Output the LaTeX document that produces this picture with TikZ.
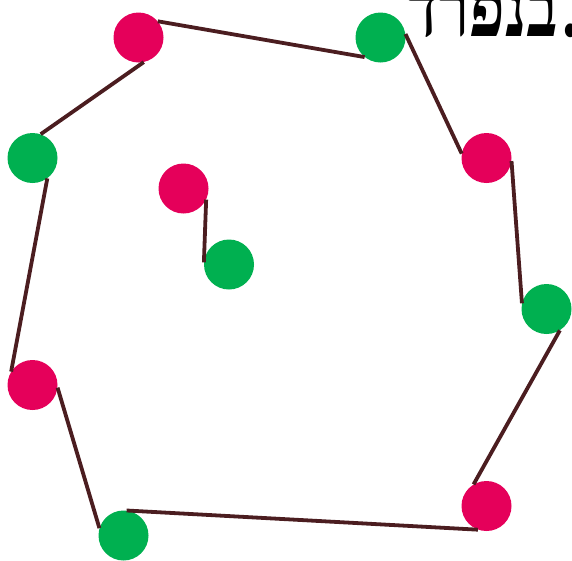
\documentclass[tikz,border=0pt]{standalone}
\usepackage{xcolor}
\usepackage{fontspec}
\usepackage{tikz}
\usetikzlibrary{positioning}
\newfontfamily\hebfont[Script=Hebrew]{Liberation Serif}
\TeXXeTstate=1
\definecolor{dotpink}{HTML}{E5005A}
\definecolor{dotgreen}{HTML}{00B050}
\definecolor{linkbrown}{HTML}{4B1D20}

\begin{document}
\begin{tikzpicture}[
    x=1pt, y=-1pt,
    dot/.style={circle, minimum size=50pt, inner sep=0pt},
    pinkdot/.style={dot, fill=dotpink},
    greendot/.style={dot, fill=dotgreen},
    link/.style={draw=linkbrown, line width=3.8pt},
]
\useasboundingbox (0,0) rectangle (572,560);
\node[pinkdot] (p1) at (138.5,37.5) {};
\node[greendot] (g1) at (380.5,37.5) {};
\node[pinkdot] (p2) at (486.5,158) {};
\node[greendot] (g2) at (546.5,309) {};
\node[pinkdot] (p3) at (486.5,506) {};
\node[greendot] (g3) at (123.5,535.5) {};
\node[pinkdot] (p4) at (32.5,385) {};
\node[greendot] (g4) at (32.5,158) {};
\node[pinkdot] (p5) at (183.5,188.5) {};
\node[greendot] (g5) at (229,264.5) {};
\draw[link] (p1.40) -- (g1.231);
\draw[link] (g1.8) -- (p2.170);
\draw[link] (p2.-7) -- (g2.167);
\draw[link] (g2.-58) -- (p3.121);
\draw[link] (p3.250) -- (g3.83);
\draw[link] (g3.163) -- (p4.-6);
\draw[link] (p4.148) -- (g4.-54);
\draw[link] (g4.71) -- (p1.-78);
\draw[link] (p5.-26) -- (g5.175);
\node[anchor=base west, inner sep=0pt, font=\hebfont\bfseries\fontsize{63}{67}\selectfont] (title) at (406,36) {\scalebox{1.04}[1.35]{\beginR .\kern4pt בנפרד\endR}};
\end{tikzpicture}
\end{document}
